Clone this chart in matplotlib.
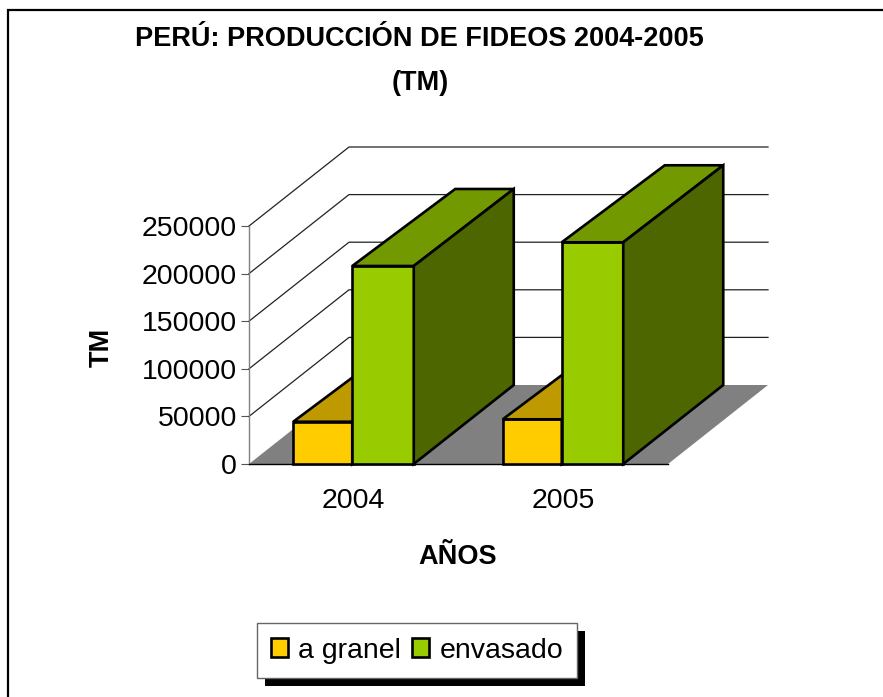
import matplotlib
matplotlib.use("Agg")
import matplotlib.pyplot as plt
from matplotlib.lines import Line2D
from matplotlib.patches import Polygon, Rectangle
from matplotlib.transforms import IdentityTransform

plt.rcParams['font.family'] = ['Liberation Sans', 'DejaVu Sans']

years = ["2004", "2005"]
a_granel = [44400, 46950]
envasado = [208000, 232900]
y_ticks = [0, 50000, 100000, 150000, 200000, 250000]

W, H = 883, 697


# depth of the fake 3D box, in data units
depth_x = 100 / 209.5
depth_y = 79 / 47.6 * 50000
roof_x = 103 / 209.5
roof_y = 77 / 47.6 * 50000


def box(ax, x0, x1, top, front, roof, side):
    ax.add_patch(Rectangle((x0, 0), x1 - x0, top, fc=front, ec="black", lw=1.9, clip_on=False, zorder=3))
    ax.add_patch(Polygon([(x0, top), (x1, top), (x1 + depth_x, top + roof_y), (x0 + roof_x, top + roof_y)],
                         fc=roof, ec="black", lw=1.9, clip_on=False, zorder=3, joinstyle="miter"))
    ax.add_patch(Polygon([(x1, 0), (x1, top), (x1 + depth_x, top + roof_y), (x1 + depth_x, depth_y)],
                         fc=side, ec="black", lw=1.9, clip_on=False, zorder=3, joinstyle="miter"))


fig = plt.figure(figsize=(W / 100, H / 100), dpi=100)
fig.patch.set_facecolor("white")
# the frame only shows on the left and on top
fig.add_artist(Line2D([7.5, 7.5, W + 5], [-5, H - 9.5, H - 9.5], transform=IdentityTransform(), color="black",
                      lw=1.6, solid_joinstyle="miter", zorder=-1))

ax = fig.add_axes([249 / W, 1 - 464 / H, 419 / W, 238 / H])
ax.set_xlim(0, 2)
ax.set_ylim(0, 250000)
ax.patch.set_visible(False)
for s in ["top", "right"]:
    ax.spines[s].set_visible(False)
ax.spines["left"].set_color("#808080")
ax.spines["left"].set_linewidth(1.0)
ax.spines["bottom"].set_color("black")
ax.spines["bottom"].set_linewidth(1.0)

# floor
ax.add_patch(Polygon([(0, 0), (2, 0), (2 + depth_x, depth_y), (depth_x, depth_y)],
                     fc="#808080", ec="none", clip_on=False, zorder=1))

# walls gridlines
for v in y_ticks[1:]:
    ax.plot([0, depth_x, 2 + depth_x], [v, v + depth_y, v + depth_y], color="#222222", lw=0.9,
            clip_on=False, zorder=2)

# the two bars of a year meet a little left of the tick
w_left = 59 / 209.5
w_right = 61.5 / 209.5
for i in range(len(years)):
    mid = i + 0.5 - 1.5 / 209.5
    box(ax, mid - w_left, mid, a_granel[i], "#FFCC00", "#BF9900", "#806600")
    box(ax, mid, mid + w_right, envasado[i], "#99CC00", "#739900", "#4D6600")

ax.set_yticks(y_ticks)
ax.set_xticks([0.5, 1.5])
ax.set_xticklabels(years)
ax.tick_params(axis="y", length=5.5, width=0.8, color="#555555", labelsize=20.5, pad=3)
ax.tick_params(axis="x", length=0, labelsize=20.5, pad=17)
for lab in ax.get_yticklabels():
    lab.set_verticalalignment("center_baseline")

fig.text(419 / W, 1 - 38.5 / H, "PERÚ: PRODUCCIÓN DE FIDEOS 2004-2005", fontsize=19.5, fontweight="bold",
         ha="center", va="center")
fig.text(420 / W, 1 - 83 / H, "(TM)", fontsize=19.5, fontweight="bold", ha="center", va="center")
fig.text(458 / W, 1 - 557 / H, "AÑOS", fontsize=19.5, fontweight="bold", ha="center", va="center")
fig.text(102 / W, 1 - 347 / H, "TM", fontsize=19.5, fontweight="bold", ha="center", va="center", rotation=90)

handles = [Rectangle((0, 0), 1, 1, fc="#FFCC00", ec="black", lw=1.9),
           Rectangle((0, 0), 1, 1, fc="#99CC00", ec="black", lw=1.9)]
leg = fig.legend(handles, ["a granel", "envasado"], ncol=2, fontsize=20.5, loc="center",
                 bbox_to_anchor=(417 / W, 1 - 650.5 / H), fancybox=False, edgecolor="#666666", framealpha=1,
                 handlelength=0.6, handleheight=0.6, handletextpad=0.35, columnspacing=0.4,
                 borderpad=0.5, borderaxespad=0)
leg.get_frame().set_linewidth(1.0)
leg.set_zorder(6)

fig.canvas.draw()
bb = leg.get_window_extent()
fig.add_artist(Rectangle((bb.x0 + 8, bb.y0 - 8), bb.width, bb.height, transform=IdentityTransform(),
                         fc="black", ec="none", zorder=5))

fig.savefig("out.png", dpi=100)
